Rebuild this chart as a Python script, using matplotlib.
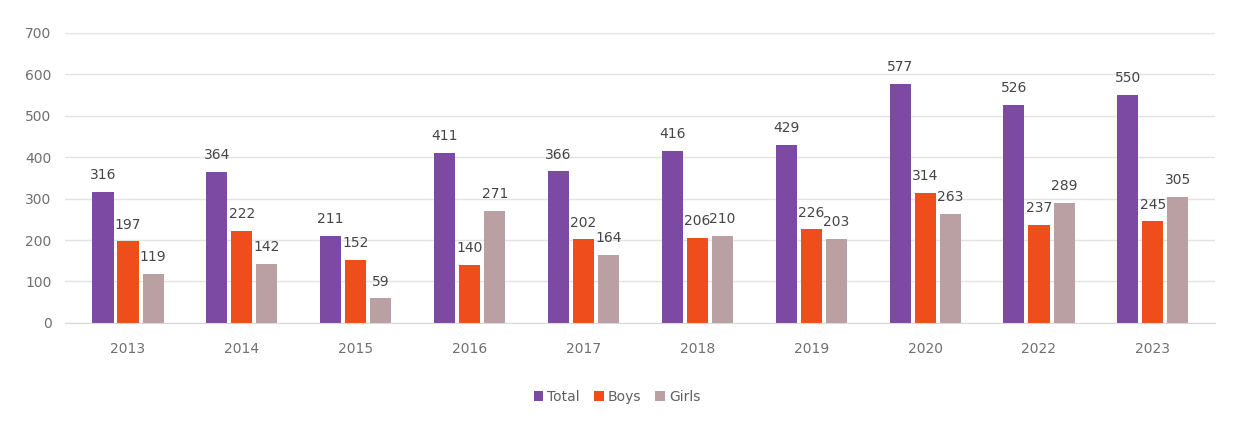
import numpy as np
import matplotlib
matplotlib.use("Agg")
import matplotlib.pyplot as plt

years = ["2013", "2014", "2015", "2016", "2017", "2018", "2019", "2020", "2022", "2023"]
total = [316, 364, 211, 411, 366, 416, 429, 577, 526, 550]
boys = [197, 222, 152, 140, 202, 206, 226, 314, 237, 245]
girls = [119, 142, 59, 271, 164, 210, 203, 263, 289, 305]

series = [("Total", total, "#7d4aa3"), ("Boys", boys, "#f04d1c"), ("Girls", girls, "#baa0a2")]

fig = plt.figure(figsize=(12.34, 4.34), dpi=100)
ax = fig.add_axes([0.053, 0.256, 0.932, 0.668])

x = np.arange(len(years))
width = 0.185
step = 0.22
for i, (name, vals, col) in enumerate(series):
    pos = x + (i - 1) * step
    bars = ax.bar(pos, vals, width, color=col, label=name, zorder=2)
    for b, v in zip(bars, vals):
        ax.annotate(str(v), (b.get_x() + b.get_width() / 2, v), xytext=(0, 7),
                    textcoords="offset points", ha="center", va="bottom",
                    fontsize=10, color="#454545")

ax.set_ylim(0, 700)
ax.set_yticks(range(0, 701, 100))
ax.set_xlim(-0.55, len(years) - 0.45)
ax.set_xticks(x)
ax.set_xticklabels(years)
ax.tick_params(axis="both", length=0, colors="#707070", labelsize=10)
ax.tick_params(axis="x", pad=14)
ax.tick_params(axis="y", pad=10)
ax.grid(axis="y", color="#e3e3e3", linewidth=1, zorder=0)
for s in ["top", "right", "left"]:
    ax.spines[s].set_visible(False)
ax.spines["bottom"].set_color("#d9d9d9")

fig.legend(loc="center", bbox_to_anchor=(0.5, 0.085), ncol=3, frameon=False,
           fontsize=10, handlelength=0.7, handleheight=0.7, handletextpad=0.3,
           columnspacing=1.0, labelcolor="#606060")

fig.savefig("out.png", dpi=100, facecolor="white")
